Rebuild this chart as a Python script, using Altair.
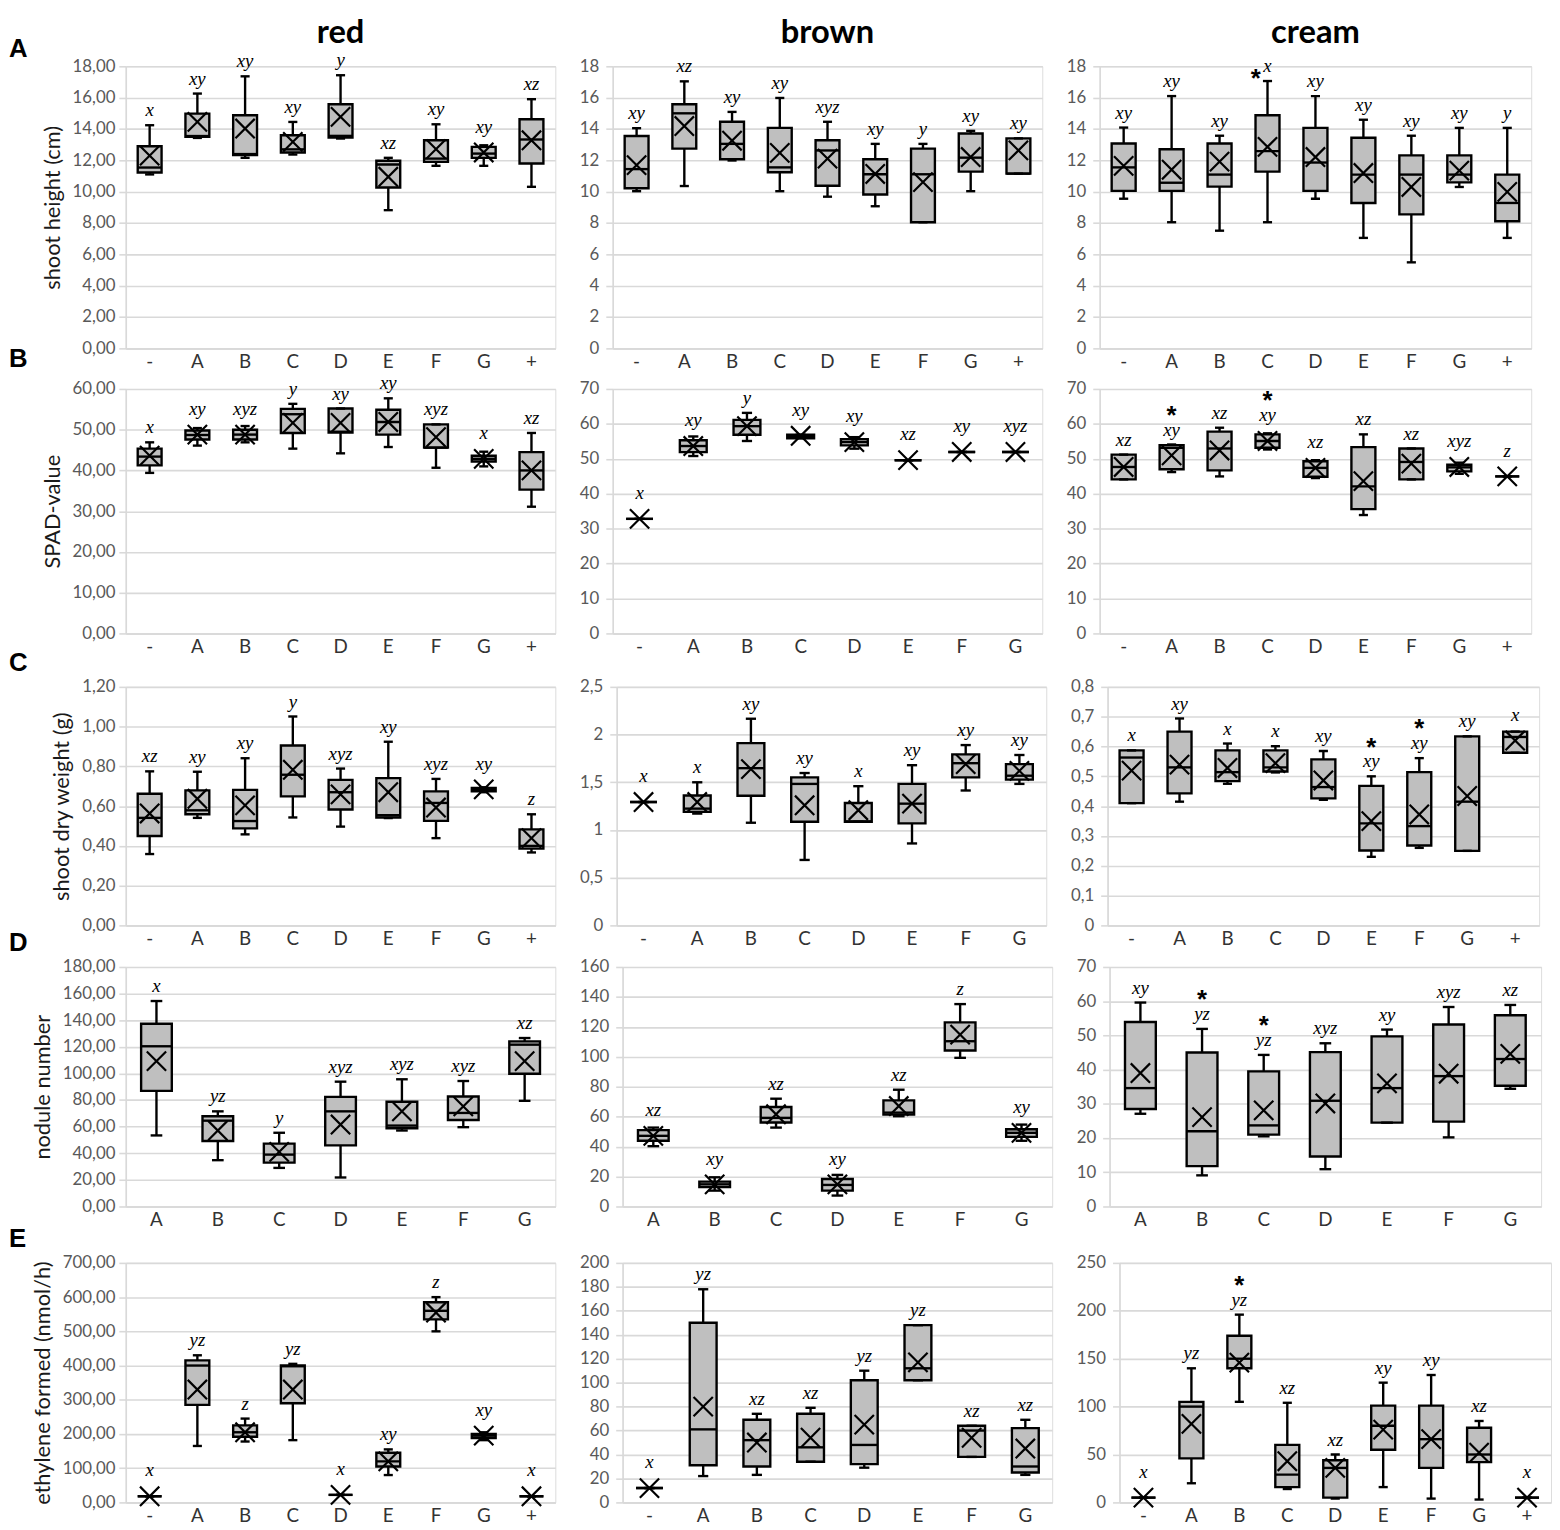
import altair as alt
import numpy as np
import pandas as pd

CATS9 = ["-", "A", "B", "C", "D", "E", "F", "G", "+"]
CATS8 = ["-", "A", "B", "C", "D", "E", "F", "G"]
CATS7 = ["A", "B", "C", "D", "E", "F", "G"]
COLUMNS = ["red", "brown", "cream"]
ROW_LETTERS = ["A", "B", "C", "D", "E"]
Y_TITLES = ["shoot height (cm)", "SPAD-value", "shoot dry weight  (g)",
            "nodule number", "ethylene formed (nmol/h)"]

# ---------------- Row A: shoot height ----------------
A_red_min = [11.10, 13.43, 12.16, 12.37, 13.39, 8.82, 11.65, 11.65, 10.31]
A_red_q1 = [11.22, 13.50, 12.33, 12.50, 13.45, 10.27, 11.90, 12.16, 11.80]
A_red_med = [11.54, 13.55, 12.40, 12.70, 13.56, 11.73, 12.11, 12.43, 13.33]
A_red_q3 = [12.90, 14.98, 14.88, 13.60, 15.58, 11.97, 13.28, 12.86, 14.62]
A_red_max = [14.24, 16.26, 17.36, 14.45, 17.43, 12.16, 14.30, 12.96, 15.90]
A_red_mean = [12.30, 14.45, 14.03, 13.18, 14.77, 10.95, 12.71, 12.50, 13.28]
A_red_lab = ["x", "xy", "xy", "xy", "y", "xz", "xy", "xy", "xz"]

A_brown_min = [10.03, 10.36, 11.99, 10.03, 9.68, 9.07, 8.05, 10.03, 11.15]
A_brown_q1 = [10.22, 12.75, 12.07, 11.24, 10.38, 9.82, 8.05, 11.28, 11.15]
A_brown_med = [11.44, 15.00, 13.05, 11.55, 12.63, 11.11, 11.11, 12.17, 11.15]
A_brown_q3 = [13.55, 15.58, 14.46, 14.07, 13.28, 12.07, 12.75, 13.71, 13.40]
A_brown_max = [14.05, 17.04, 15.09, 15.98, 14.46, 13.05, 13.05, 13.88, 13.40]
A_brown_mean = [11.69, 14.19, 13.25, 12.48, 12.11, 11.13, 10.61, 12.21, 12.63]
A_brown_lab = ["xy", "xz", "xy", "xy", "xyz", "xy", "y", "xy", "xy"]

A_cream_min = [9.55, 8.05, 7.51, 8.05, 9.55, 7.05, 5.49, 10.30, 7.05]
A_cream_q1 = [10.05, 10.05, 10.32, 11.28, 10.05, 9.28, 8.55, 10.59, 8.11]
A_cream_med = [11.55, 10.57, 11.09, 12.59, 11.86, 11.09, 11.09, 11.09, 9.28]
A_cream_q3 = [13.07, 12.71, 13.07, 14.88, 14.07, 13.44, 12.32, 12.32, 11.09]
A_cream_max = [14.09, 16.10, 13.57, 17.06, 16.10, 14.59, 13.57, 14.07, 14.07]
A_cream_mean = [11.65, 11.40, 11.92, 12.86, 12.21, 11.19, 10.30, 11.34, 9.99]
A_cream_lab = ["xy", "xy", "xy", "x", "xy", "xy", "xy", "xy", "y"]
A_cream_star = ["", "", "", "left", "", "", "", "", ""]

# ---------------- Row B: SPAD ----------------
B_red_min = [39.4, 46.1, 46.9, 45.35, 44.2, 45.75, 40.66, 41.0, 31.1]
B_red_q1 = [41.23, 47.6, 47.6, 49.2, 49.3, 48.8, 45.6, 42.2, 35.3]
B_red_med = [43.4, 48.7, 48.8, 53.8, 49.5, 51.9, 45.6, 42.85, 40.0]
B_red_q3 = [45.35, 49.8, 50.0, 55.1, 55.2, 54.9, 51.3, 43.6, 44.5]
B_red_max = [46.9, 50.4, 50.9, 56.35, 55.2, 57.7, 51.3, 44.6, 49.2]
B_red_mean = [43.65, 48.8, 48.8, 51.66, 51.66, 51.9, 48.18, 42.85, 40.0]
B_red_lab = ["x", "xy", "xyz", "y", "xy", "xy", "xyz", "x", "xz"]

B_brown_min = [32.8, 50.8, 55.1, 55.9, 52.9, 49.6, 51.95, 51.95]
B_brown_q1 = [32.8, 51.9, 56.9, 55.9, 53.85, 49.6, 51.95, 51.95]
B_brown_med = [32.8, 53.66, 59.35, 56.4, 54.8, 49.6, 51.95, 51.95]
B_brown_q3 = [32.8, 55.3, 61.16, 56.9, 55.65, 49.6, 51.95, 51.95]
B_brown_max = [32.8, 56.4, 63.15, 56.9, 56.2, 49.6, 51.95, 51.95]
B_brown_mean = [32.8, 53.66, 59.35, 56.6, 54.8, 49.6, 51.95, 51.95]
B_brown_lab = ["x", "xy", "y", "xy", "xy", "xz", "xy", "xyz"]

B_cream_min = [44.1, 46.2, 44.96, 52.67, 44.5, 33.9, 44.1, 45.7, 44.96]
B_cream_q1 = [44.1, 47.0, 46.7, 53.15, 44.87, 35.6, 44.1, 46.4, 44.96]
B_cream_med = [47.66, 53.15, 52.96, 55.1, 47.4, 42.1, 49.1, 47.56, 44.96]
B_cream_q3 = [51.2, 53.9, 57.8, 57.0, 49.3, 53.34, 52.96, 48.3, 44.96]
B_cream_max = [51.2, 54.1, 58.9, 57.3, 49.6, 57.0, 52.96, 48.9, 44.96]
B_cream_mean = [47.66, 51.0, 52.38, 55.1, 47.4, 43.6, 48.6, 47.66, 44.96]
B_cream_lab = ["xz", "xy", "xz", "xy", "xz", "xz", "xz", "xyz", "z"]
B_cream_star = ["", "up", "", "up", "", "", "", "", ""]

# ---------------- Row C: shoot dry weight ----------------
C_red_min = [0.359, 0.541, 0.458, 0.543, 0.497, 0.540, 0.439, 0.670, 0.367]
C_red_q1 = [0.450, 0.559, 0.488, 0.649, 0.583, 0.543, 0.526, 0.675, 0.386]
C_red_med = [0.541, 0.579, 0.525, 0.758, 0.670, 0.554, 0.616, 0.684, 0.400]
C_red_q3 = [0.662, 0.679, 0.682, 0.905, 0.732, 0.741, 0.674, 0.692, 0.483]
C_red_max = [0.775, 0.773, 0.841, 1.051, 0.789, 0.924, 0.737, 0.695, 0.559]
C_red_mean = [0.563, 0.637, 0.604, 0.783, 0.659, 0.670, 0.593, 0.684, 0.439]
C_red_lab = ["xz", "xy", "xy", "y", "xyz", "xy", "xyz", "xy", "z"]

C_brown_min = [1.293, 1.172, 1.076, 0.686, 1.086, 0.859, 1.414, 1.483]
C_brown_q1 = [1.293, 1.190, 1.359, 1.086, 1.086, 1.069, 1.552, 1.528]
C_brown_med = [1.293, 1.224, 1.648, 1.483, 1.090, 1.276, 1.700, 1.569]
C_brown_q3 = [1.293, 1.362, 1.910, 1.552, 1.283, 1.483, 1.793, 1.690]
C_brown_max = [1.293, 1.500, 2.166, 1.597, 1.459, 1.679, 1.890, 1.786]
C_brown_mean = [1.293, 1.293, 1.638, 1.259, 1.207, 1.276, 1.690, 1.620]
C_brown_lab = ["x", "x", "xy", "xy", "x", "xy", "xy", "xy"]

C_cream_min = [0.410, 0.415, 0.475, 0.513, 0.421, 0.230, 0.260, 0.250, 0.579]
C_cream_q1 = [0.410, 0.443, 0.484, 0.516, 0.426, 0.251, 0.268, 0.250, 0.579]
C_cream_med = [0.563, 0.530, 0.514, 0.530, 0.464, 0.342, 0.333, 0.415, 0.632]
C_cream_q3 = [0.587, 0.650, 0.587, 0.587, 0.557, 0.468, 0.514, 0.634, 0.650]
C_cream_max = [0.587, 0.694, 0.610, 0.601, 0.585, 0.500, 0.561, 0.634, 0.650]
C_cream_mean = [0.519, 0.539, 0.528, 0.544, 0.486, 0.350, 0.372, 0.434, 0.620]
C_cream_lab = ["x", "xy", "x", "x", "xy", "xy", "xy", "xy", "x"]
C_cream_star = ["", "", "", "", "", "up", "up", "", ""]

# ---------------- Row D: nodule number ----------------
D_red_min = [53.4, 34.8, 29.0, 21.8, 57.1, 59.6, 79.4]
D_red_q1 = [86.9, 49.2, 33.0, 45.9, 58.8, 65.0, 99.8]
D_red_med = [120.4, 64.5, 39.0, 71.5, 60.8, 70.3, 121.6]
D_red_q3 = [137.3, 67.8, 47.2, 82.4, 78.7, 82.7, 124.1]
D_red_max = [154.4, 71.5, 55.4, 93.8, 95.6, 94.3, 126.6]
D_red_mean = [109.2, 57.1, 41.0, 61.6, 71.5, 75.2, 109.2]
D_red_lab = ["x", "yz", "y", "xyz", "xyz", "xyz", "xz"]

D_brown_min = [40.3, 10.6, 52.7, 7.3, 60.3, 99.3, 43.9]
D_brown_q1 = [43.9, 12.9, 56.1, 10.6, 61.4, 104.2, 46.5]
D_brown_med = [47.2, 14.8, 59.2, 14.4, 62.7, 110.4, 49.2]
D_brown_q3 = [51.0, 16.6, 66.5, 18.4, 70.9, 123.0, 51.6]
D_brown_max = [52.7, 19.5, 72.0, 21.1, 78.0, 135.2, 54.7]
D_brown_mean = [47.2, 14.8, 61.6, 14.8, 67.1, 114.8, 49.2]
D_brown_lab = ["xz", "xy", "xz", "xy", "xz", "z", "xy"]

D_cream_min = [27.1, 9.1, 20.5, 10.9, 24.5, 20.2, 34.4]
D_cream_q1 = [28.5, 11.8, 21.0, 14.6, 24.5, 24.8, 35.3]
D_cream_med = [34.6, 22.0, 23.7, 30.9, 34.6, 38.1, 43.1]
D_cream_q3 = [53.9, 45.0, 39.5, 45.1, 49.7, 53.2, 55.9]
D_cream_max = [59.6, 51.9, 44.3, 47.7, 51.7, 58.3, 58.9]
D_cream_mean = [39.0, 26.1, 28.1, 30.1, 36.0, 38.8, 44.6]
D_cream_lab = ["xy", "yz", "yz", "xyz", "xy", "xyz", "xz"]
D_cream_star = ["", "up", "up", "", "", "", ""]

# ---------------- Row E: ethylene formed ----------------
E_red_min = [18, 165, 178, 182, 22, 80, 500, 182, 18]
E_red_q1 = [18, 285, 192, 290, 22, 105, 535, 188, 18]
E_red_med = [18, 400, 205, 398, 22, 120, 560, 195, 18]
E_red_q3 = [18, 415, 225, 400, 22, 145, 585, 200, 18]
E_red_max = [18, 430, 245, 405, 22, 155, 600, 205, 18]
E_red_mean = [18, 330, 205, 330, 22, 120, 555, 195, 18]
E_red_lab = ["x", "yz", "z", "yz", "x", "xy", "z", "xy", "x"]

E_brown_min = [12, 22, 23, 34, 29, 102, 38, 23]
E_brown_q1 = [12, 31, 30, 34, 32, 102, 38, 25]
E_brown_med = [12, 61, 52, 46, 48, 112, 60, 30]
E_brown_q3 = [12, 150, 69, 74, 102, 148, 64, 62]
E_brown_max = [12, 178, 74, 79, 110, 148, 64, 69]
E_brown_mean = [12, 80, 50, 54, 65, 117, 54, 45]
E_brown_lab = ["x", "yz", "xz", "xz", "yz", "yz", "xz", "xz"]

E_cream_min = [5, 20, 105, 14, 4, 16, 4, 3, 5]
E_cream_q1 = [5, 46, 140, 16, 5, 55, 36, 42, 5]
E_cream_med = [5, 100, 150, 29, 36, 80, 66, 50, 5]
E_cream_q3 = [5, 105, 174, 60, 44, 101, 101, 78, 5]
E_cream_max = [5, 140, 196, 104, 50, 125, 133, 85, 5]
E_cream_mean = [5, 82, 146, 43, 36, 76, 66, 52, 5]
E_cream_lab = ["x", "yz", "yz", "xz", "xz", "xy", "xy", "xz", "x"]
E_cream_star = ["", "", "up", "", "", "", "", "", ""]

# ---------------- styling ----------------
FONT = "Lato"
SERIF = "Liberation Serif"
GRID = "#d9d9d9"
XPATH = "M-1,-1L1,1M-1,1L1,-1"
W_RED, W_BROWN, W_CREAM = 434, 434, 436
HEIGHTS = [285, 247, 241, 242, 242]


def make_panel(cats, mn, q1, md, q3, mx, mean, lab, star, dmax, step, w, h,
               two_dec, ytitle=None, coltitle=None, letters=None):
    n = len(cats)
    bw = w / n * 0.5
    if star is None:
        star = [""] * n
    df = pd.DataFrame({"cat": cats, "mn": mn, "q1": q1, "md": md, "q3": q3,
                       "mx": mx, "mean": mean, "lab": lab, "star": star})
    df["lab_y"] = np.maximum(df["mx"], df["mean"] + 11.0 * dmax / h)
    nt = int(round(dmax / step))
    ticks = [round(i * step, 6) for i in range(nt + 1)]
    fmt = ".2f" if two_dec else "~g"
    yaxis = alt.Axis(
        values=ticks,
        labelExpr="replace(format(datum.value, '%s'), '.', ',')" % fmt,
        grid=True, gridColor=GRID, gridWidth=1.6,
        domainColor=GRID, domainWidth=1.6,
        tickColor=GRID, tickSize=7, tickWidth=1.6,
        labelColor="#595959", labelFont=FONT, labelFontSize=17,
        labelPadding=4 if two_dec else 7,
        title=ytitle, titleFont=FONT, titleFontSize=22, titleFontWeight="normal",
        titleColor="#1a1a1a", titlePadding=8,
    )
    ysc = alt.Scale(domain=[0, dmax], nice=False)
    xaxis = alt.Axis(title=None, labelAngle=0, ticks=False, grid=False,
                     domainColor=GRID, domainWidth=1.6, labelColor="#333333",
                     labelFont=FONT, labelFontSize=19, labelPadding=4)
    x = alt.X("cat:N", sort=cats,
              scale=alt.Scale(paddingInner=0, paddingOuter=0), axis=xaxis)

    def Y(f):
        return alt.Y(f, type="quantitative", scale=ysc, axis=yaxis)

    base = alt.Chart(df)
    layers = [
        base.mark_rule(color="black", strokeWidth=2.4).encode(x=x, y=Y("mn"), y2="mx"),
        base.mark_bar(size=bw, fill="#bfbfbf", stroke="black", strokeWidth=2.4).encode(
            x=x, y=Y("q1"), y2="q3"),
        base.mark_tick(size=bw, thickness=2.4, color="black", opacity=1).encode(x=x, y=Y("md")),
        base.mark_tick(size=bw * 0.38, thickness=2.4, color="black", opacity=1).encode(x=x, y=Y("mn")),
        base.mark_tick(size=bw * 0.38, thickness=2.4, color="black", opacity=1).encode(x=x, y=Y("mx")),
        base.mark_point(shape=XPATH, size=380, strokeWidth=2.2, color="black",
                        filled=False, opacity=1).encode(x=x, y=Y("mean")),
        base.mark_text(font=SERIF, fontStyle="italic", fontSize=19, baseline="alphabetic",
                       dy=-9, color="black").encode(x=x, y=Y("lab_y"), text="lab:N"),
    ]
    if "up" in star:
        layers.append(
            base.transform_filter(alt.datum.star == "up").mark_text(
                text="*", font="Liberation Sans", fontSize=26, fontWeight="bold",
                baseline="alphabetic", dy=-21, color="black").encode(x=x, y=Y("lab_y")))
    if "left" in star:
        layers.append(
            base.transform_filter(alt.datum.star == "left").mark_text(
                text="*", font="Liberation Sans", fontSize=26, fontWeight="bold",
                baseline="alphabetic", dx=-12, dy=6, color="black").encode(x=x, y=Y("lab_y")))
    if letters:
        for (t, yoff) in letters:
            layers.append(
                alt.Chart(pd.DataFrame({"t": [t]})).mark_text(
                    font="Liberation Sans", fontWeight="bold", fontSize=26,
                    align="left", baseline="middle", color="black").encode(
                    x=alt.value(-118), y=alt.value(yoff), text="t:N"))
    if coltitle:
        layers.append(
            alt.Chart(pd.DataFrame({"t": [coltitle]})).mark_text(
                font=FONT, fontWeight="bold", fontSize=33, align="center",
                baseline="middle", color="black").encode(
                x=alt.value(w / 2), y=alt.value(-34), text="t:N"))
    return alt.layer(*layers).properties(width=w, height=h)


rows = []
# Row A
h = HEIGHTS[0]
rows.append(alt.hconcat(
    make_panel(CATS9, A_red_min, A_red_q1, A_red_med, A_red_q3, A_red_max, A_red_mean,
               A_red_lab, None, 18, 2, W_RED, h, True, Y_TITLES[0], COLUMNS[0],
               [(ROW_LETTERS[0], -17), (ROW_LETTERS[1], h + 11)]),
    make_panel(CATS9, A_brown_min, A_brown_q1, A_brown_med, A_brown_q3, A_brown_max,
               A_brown_mean, A_brown_lab, None, 18, 2, W_BROWN, h, False, None, COLUMNS[1]),
    make_panel(CATS9, A_cream_min, A_cream_q1, A_cream_med, A_cream_q3, A_cream_max,
               A_cream_mean, A_cream_lab, A_cream_star, 18, 2, W_CREAM, h, False, None, COLUMNS[2]),
    spacing=22))
# Row B
h = HEIGHTS[1]
rows.append(alt.hconcat(
    make_panel(CATS9, B_red_min, B_red_q1, B_red_med, B_red_q3, B_red_max, B_red_mean,
               B_red_lab, None, 60, 10, W_RED, h, True, Y_TITLES[1], None,
               [(ROW_LETTERS[2], h + 30)]),
    make_panel(CATS8, B_brown_min, B_brown_q1, B_brown_med, B_brown_q3, B_brown_max,
               B_brown_mean, B_brown_lab, None, 70, 10, W_BROWN, h, False),
    make_panel(CATS9, B_cream_min, B_cream_q1, B_cream_med, B_cream_q3, B_cream_max,
               B_cream_mean, B_cream_lab, B_cream_star, 70, 10, W_CREAM, h, False),
    spacing=22))
# Row C
h = HEIGHTS[2]
rows.append(alt.hconcat(
    make_panel(CATS9, C_red_min, C_red_q1, C_red_med, C_red_q3, C_red_max, C_red_mean,
               C_red_lab, None, 1.2, 0.2, W_RED, h, True, Y_TITLES[2], None,
               [(ROW_LETTERS[3], h + 18)]),
    make_panel(CATS8, C_brown_min, C_brown_q1, C_brown_med, C_brown_q3, C_brown_max,
               C_brown_mean, C_brown_lab, None, 2.5, 0.5, W_BROWN, h, False),
    make_panel(CATS9, C_cream_min, C_cream_q1, C_cream_med, C_cream_q3, C_cream_max,
               C_cream_mean, C_cream_lab, C_cream_star, 0.8, 0.1, W_CREAM, h, False),
    spacing=22))
# Row D
h = HEIGHTS[3]
rows.append(alt.hconcat(
    make_panel(CATS7, D_red_min, D_red_q1, D_red_med, D_red_q3, D_red_max, D_red_mean,
               D_red_lab, None, 180, 20, W_RED, h, True, Y_TITLES[3], None,
               [(ROW_LETTERS[4], h + 33)]),
    make_panel(CATS7, D_brown_min, D_brown_q1, D_brown_med, D_brown_q3, D_brown_max,
               D_brown_mean, D_brown_lab, None, 160, 20, W_BROWN, h, False),
    make_panel(CATS7, D_cream_min, D_cream_q1, D_cream_med, D_cream_q3, D_cream_max,
               D_cream_mean, D_cream_lab, D_cream_star, 70, 10, W_CREAM, h, False),
    spacing=22))
# Row E
h = HEIGHTS[4]
rows.append(alt.hconcat(
    make_panel(CATS9, E_red_min, E_red_q1, E_red_med, E_red_q3, E_red_max, E_red_mean,
               E_red_lab, None, 700, 100, W_RED, h, True, Y_TITLES[4]),
    make_panel(CATS8, E_brown_min, E_brown_q1, E_brown_med, E_brown_q3, E_brown_max,
               E_brown_mean, E_brown_lab, None, 200, 20, W_BROWN, h, False),
    make_panel(CATS9, E_cream_min, E_cream_q1, E_cream_med, E_cream_q3, E_cream_max,
               E_cream_mean, E_cream_lab, E_cream_star, 250, 50, W_CREAM, h, False),
    spacing=22))

chart = alt.vconcat(*rows, spacing=0, padding=0).configure_view(stroke=None).configure(
    background="white")

chart.save("out.html", embed_options={"renderer": "svg", "actions": False})
